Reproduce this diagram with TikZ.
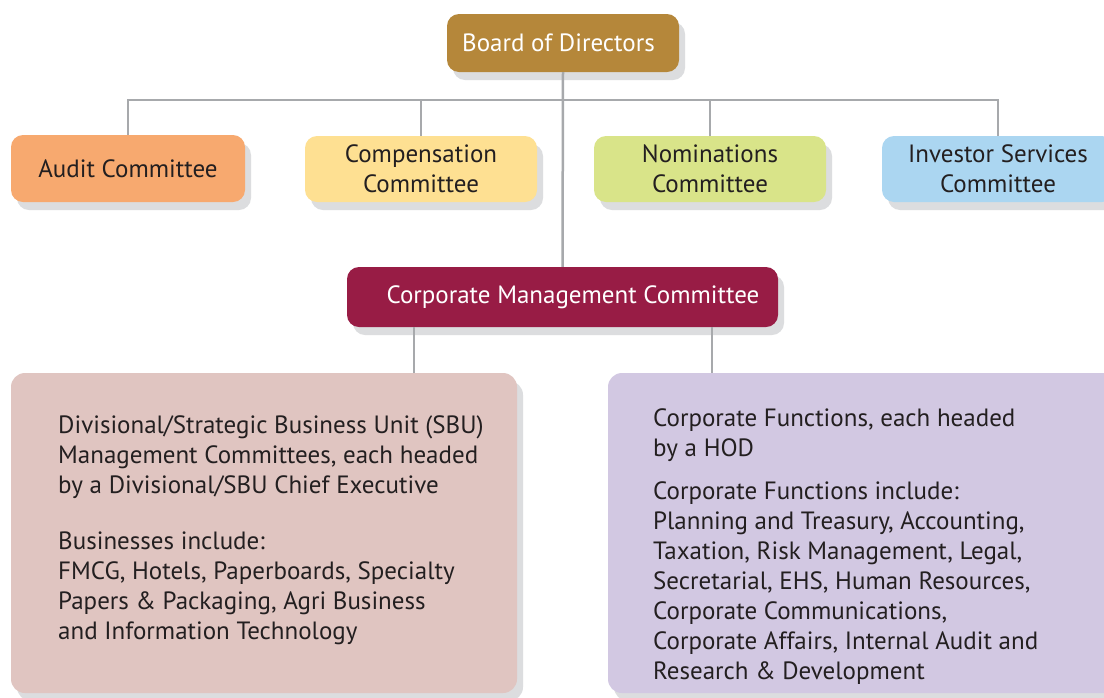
\documentclass[tikz,border=0pt]{standalone}
\usepackage{fontspec}
\setmainfont{PT Sans}
\usetikzlibrary{shadows}
\definecolor{boardfill}{HTML}{B5873A}
\definecolor{auditfill}{HTML}{F7A96F}
\definecolor{compfill}{HTML}{FEE092}
\definecolor{nomfill}{HTML}{D9E489}
\definecolor{invfill}{HTML}{ABD6F1}
\definecolor{cmcfill}{HTML}{981C45}
\definecolor{sbufill}{HTML}{E0C5C1}
\definecolor{corpfill}{HTML}{D2C8E2}
\definecolor{shadowgrey}{HTML}{DCDDDF}
\definecolor{linegrey}{HTML}{A7A9AC}
\definecolor{ink}{HTML}{231F20}
\begin{document}
\begin{tikzpicture}[x=1pt,y=-1pt,
  box/.style={rounded corners=12pt, inner sep=0pt, draw=none,
    font=\fontsize{25}{30}\selectfont, text=ink, align=center,
    drop shadow={shadow xshift=6pt, shadow yshift=-8pt, fill=shadowgrey, opacity=1}},
  committee/.style={box, minimum width=232pt, minimum height=66pt},
  bigbox/.style={box, rounded corners=14pt, minimum height=320pt},
  body/.style={inner sep=0pt, align=left, anchor=north west, text=ink,
    font=\fontsize{25}{30}\selectfont},
  conn/.style={draw=linegrey, line width=2.5pt}]
\clip (0,0) rectangle (1104,697);
\fill[white] (0,0) rectangle (1104,697);

% top level
\node[box, fill=boardfill, text=white, minimum width=232pt, minimum height=58pt]
  (board) at (563,43) {\raisebox{-1pt}{Board of Directors}\hspace*{9pt}};

% board committees
\node[committee, fill=auditfill, minimum width=234pt, minimum height=67pt]
  (audit) at (128,168.5) {\raisebox{-2pt}{Audit Committee}};
\node[committee, fill=compfill] (comp) at (421,169) {\raisebox{-2pt}{Compensation}\\\raisebox{-2pt}{Committee}};
\node[committee, fill=nomfill] (nom) at (710,169) {\raisebox{-2pt}{Nominations}\\\raisebox{-2pt}{Committee}};
\node[committee, fill=invfill] (inv) at (998,169) {\raisebox{-2pt}{Investor Services}\\\raisebox{-2pt}{Committee}};

% executive level
\node[box, fill=cmcfill, text=white, minimum width=431pt, minimum height=60pt]
  (cmc) at (562.5,297) {\hspace*{21pt}\raisebox{-2pt}{Corporate Management Committee}};

% operating level
\node[bigbox, fill=sbufill, minimum width=506pt] (sbu) at (264,533) {};
\node[bigbox, fill=corpfill, minimum width=512pt] (corp) at (864,533) {};

\node[body] (sbutext) at (58,415) {Divisional/Strategic Business Unit (SBU)\\
Management Committees, each headed\\
by a Divisional/SBU Chief Executive\\[26pt]
Businesses include:\\
FMCG, Hotels, Paperboards, Specialty\\
Papers \& Packaging, Agri Business\\
and Information Technology};

\node[body] (corptext) at (653,408) {Corporate Functions, each headed\\
by a HOD\\[13pt]
Corporate Functions include:\\
Planning and Treasury, Accounting,\\
Taxation, Risk Management, Legal,\\
Secretarial, EHS, Human Resources,\\
Corporate Communications,\\
Corporate Affairs, Internal Audit and\\
Research \& Development};

% connectors
\foreach \n in {audit,comp,nom,inv}
  \draw[conn] (board.south) -- ++(0,28) -| (\n.north);
\draw[conn] (board.south) -- (cmc.north);
\draw[conn] ([xshift=-148.5pt]cmc.south) -- ([xshift=-148.5pt]cmc.south |- sbu.north);
\draw[conn] ([xshift=149.5pt]cmc.south) -- ([xshift=149.5pt]cmc.south |- corp.north);
\end{tikzpicture}
\end{document}
